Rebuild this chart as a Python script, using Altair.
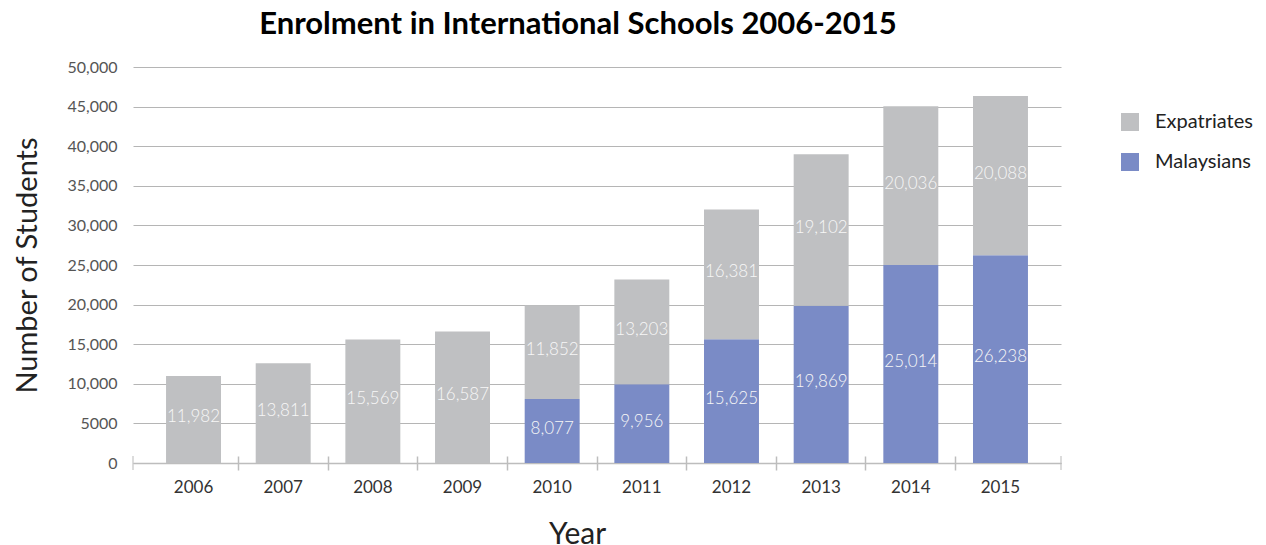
import altair as alt
import pandas as pd

years = ["2006", "2007", "2008", "2009", "2010", "2011", "2012", "2013", "2014", "2015"]
malaysians = [0, 0, 0, 0, 8077, 9956, 15625, 19869, 25014, 26238]
expatriates = [11000, 12580, 15600, 16600, 11852, 13203, 16381, 19102, 20036, 20088]
malaysian_labels = ["", "", "", "", "8,077", "9,956", "15,625", "19,869", "25,014", "26,238"]
expatriate_labels = ["11,982", "13,811", "15,569", "16,587", "11,852", "13,203",
                     "16,381", "19,102", "20,036", "20,088"]
y_ticks = [0, 5000, 10000, 15000, 20000, 25000, 30000, 35000, 40000, 45000, 50000]
series = ["Expatriates", "Malaysians"]
colors = ["#bfc0c2", "#7a8bc6"]
edges = [0, 1]
edge_base = [0, 0]

rows = []
for i, y in enumerate(years):
    m = malaysians[i]
    e = expatriates[i]
    if m > 0:
        rows.append({"year": y, "series": "Malaysians", "value": m, "ord": 0,
                     "mid": m / 2, "label": malaysian_labels[i]})
    rows.append({"year": y, "series": "Expatriates", "value": e, "ord": 1,
                 "mid": m + e / 2, "label": expatriate_labels[i]})
df = pd.DataFrame(rows)
edge_df = pd.DataFrame({"edge": edges, "base": edge_base})

FONT = "Lato"
xscale = alt.Scale(type="band", paddingInner=0, paddingOuter=0.175)
yscale = alt.Scale(domain=[0, 50000], nice=False)

yaxis = alt.Axis(title="Number of Students", values=y_ticks, tickCount=30,
                 labelExpr="datum.value >= 10000 ? format(datum.value, ',') : format(datum.value, 'd')",
                 labelOverlap=False,
                 ticks=False, domain=False, labelFontSize=16, labelColor="#555555",
                 labelFont=FONT, labelPadding=16,
                 grid=True, gridColor="#b5b5b5", gridWidth=1.2,
                 titleFont=FONT, titleFontSize=29, titleFontWeight="normal",
                 titleColor="#222222", titleX=-106, titleY=198, titleAngle=270,
                 titleBaseline="middle", titleAlign="center")

bars = alt.Chart(df).mark_bar(width=alt.RelativeBandSize(0.613)).encode(
    x=alt.X("year:N", scale=xscale, sort=years,
            axis=alt.Axis(title="Year", orient="bottom", ticks=False, domain=True,
                          domainColor="#bdbdbd", domainWidth=1.5,
                          labelAngle=0, labelFontSize=17, labelColor="#333333",
                          labelFont=FONT, labelPadding=16,
                          titleFont=FONT, titleFontSize=30, titleFontWeight="normal",
                          titleColor="#222222", titleX=444, titleY=80,
                          titleBaseline="alphabetic", titleAlign="center",
                          grid=False)),
    y=alt.Y("value:Q", stack="zero", scale=yscale, axis=yaxis),
    color=alt.Color("series:N", scale=alt.Scale(domain=series, range=colors),
                    legend=alt.Legend(title=None, orient="none", legendX=987, legendY=45,
                                      symbolType="square", symbolSize=324,
                                      symbolStrokeWidth=0, labelFontSize=20,
                                      labelFont=FONT, labelColor="#222222",
                                      labelOffset=15, rowPadding=20)),
    order=alt.Order("ord:Q"),
)

labels = alt.Chart(df).mark_text(font=FONT, fontSize=17, fontWeight=300,
                                 color="#f7f7f7", baseline="middle", dy=-2).encode(
    x=alt.X("year:N", scale=xscale, sort=years,
            axis=alt.Axis(orient="bottom", offset=-7, domain=False, labels=False,
                          values=years[1:],
                          ticks=True, tickSize=14, tickColor="#bdbdbd", tickWidth=1.5,
                          bandPosition=0, title=None, grid=False)),
    y=alt.Y("mid:Q", scale=yscale, axis=yaxis),
    text="label:N",
)

end_ticks = alt.Chart(edge_df).mark_tick(orient="vertical", size=14, thickness=1.5,
                                         color="#bdbdbd").encode(
    x=alt.X("edge:Q", scale=alt.Scale(domain=[0, 1], nice=False, zero=False), axis=None),
    y=alt.Y("base:Q", scale=yscale, axis=yaxis),
)

chart = alt.layer(bars, labels, end_ticks).resolve_scale(
    x="independent"
).resolve_axis(x="independent").properties(
    width=928, height=396,
    autosize=alt.AutoSizeParams(type="none"),
    padding={"left": 125, "top": 59, "right": 197, "bottom": 82},
    title=alt.TitleParams("Enrolment in International Schools 2006-2015",
                          font=FONT, fontSize=31, fontWeight="bold", color="#000000",
                          anchor="middle", frame="group", dx=-19, offset=18),
).configure_view(stroke=None)

chart.save("out.html", embed_options={"renderer": "svg", "actions": False})
